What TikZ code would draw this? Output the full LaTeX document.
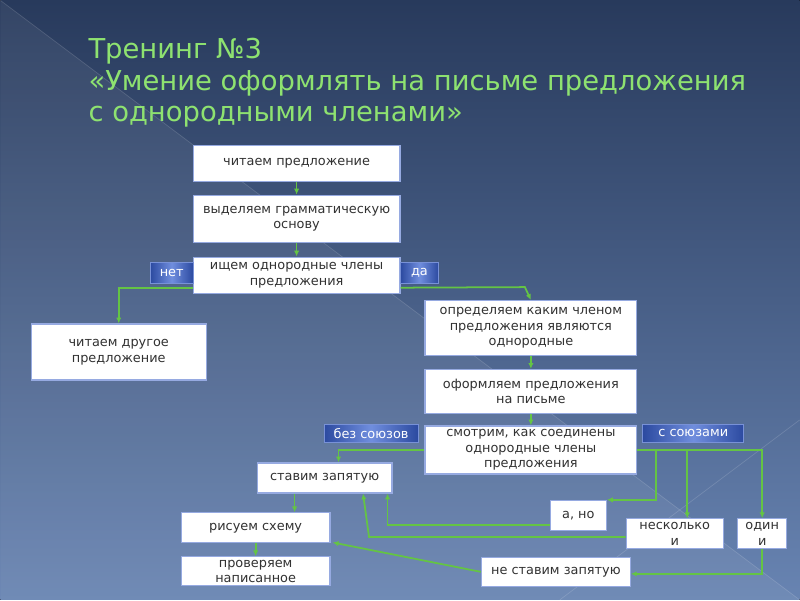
\documentclass[tikz,border=0pt]{standalone}
\usepackage{fontspec}
\setmainfont{DejaVu Sans}
\usetikzlibrary{arrows.meta, calc}
\definecolor{bgtop}{RGB}{40,58,92}
\definecolor{bgbot}{RGB}{104,132,178}
\definecolor{titlegreen}{RGB}{142,226,112}
\definecolor{flowgreen}{RGB}{100,196,68}
\definecolor{boxline}{RGB}{150,170,225}
\definecolor{boxtext}{RGB}{50,50,50}
\definecolor{tagdark}{RGB}{44,74,160}
\definecolor{taglight}{RGB}{112,142,222}
\definecolor{tagline}{RGB}{120,145,215}
\def\pxu{0.03cm}

\begin{document}
\begin{tikzpicture}[x=0.03cm, y=-0.03cm,
    box/.style={draw=boxline, line width=1pt, fill=white, text=boxtext, align=center,
        inner sep=1pt, font=\fontsize{11}{13.2}\selectfont},
    tag/.style={draw=tagline, line width=0.6pt, left color=tagdark, right color=tagdark,
        middle color=taglight, text=white, inner sep=1pt, font=\fontsize{11}{13}\selectfont},
    flow/.style={flowgreen, line width=1.5pt, -{Latex[length=5pt, width=4.5pt]}},
    heading/.style={anchor=base west, inner sep=0pt, text=titlegreen, font=\fontsize{23.4}{28}\selectfont}]
    % Background
    \fill[top color=bgtop, bottom color=bgbot] (0,0) rectangle (800,600);
    \fill[white, opacity=0.06] (0,0) -- (800,600) -- (0,600) -- cycle;
    \draw[white, opacity=0.14, line width=0.6pt] (0,0) -- (800,600);
    \draw[white, opacity=0.14, line width=0.6pt] (560,600) -- (800,420);
    \useasboundingbox (0,0) rectangle (800,600);

    % Title
    \node[heading] (title1) at (88,58) {Тренинг №3};
    \node[heading] (title2) at (88,90) {«Умение оформлять на письме предложения};
    \node[heading] (title3) at (88,121) {с однородными членами»};

    % Main column
    \node[box, minimum width=207*\pxu, minimum height=36*\pxu] (read) at (296.5,163) {читаем предложение};
    \node[box, minimum width=207*\pxu, minimum height=47*\pxu] (basis) at (296.5,218.5) {выделяем грамматическую\\основу};
    \node[box, minimum width=207*\pxu, minimum height=36*\pxu] (search) at (296.5,275) {ищем однородные члены\\предложения};
    \node[tag, minimum width=43*\pxu, minimum height=21*\pxu] (no) at (171.5,272.5) {нет};
    \node[tag, minimum width=38*\pxu, minimum height=21*\pxu] (yes) at (419.5,272.5) {да};
    \node[box, minimum width=175*\pxu, minimum height=56*\pxu] (other) at (118.5,352) {читаем другое\\предложение};

    % Right column
    \node[box, minimum width=212*\pxu, minimum height=55*\pxu] (define) at (531,328) {определяем каким членом\\предложения являются\\однородные};
    \node[box, minimum width=212*\pxu, minimum height=44*\pxu] (write) at (531,391.5) {оформляем предложения\\на письме};
    \node[box, minimum width=212*\pxu, minimum height=48*\pxu] (look) at (531,450) {смотрим, как соединены\\однородные члены\\предложения};
    \node[tag, minimum width=94*\pxu, minimum height=18*\pxu] (without) at (371,433.5) {без союзов};
    \node[tag, minimum width=101*\pxu, minimum height=18*\pxu] (with) at (693.5,433.5) {с союзами};

    % Lower part
    \node[box, minimum width=135*\pxu, minimum height=30*\pxu] (comma) at (324.5,478) {ставим запятую};
    \node[box, minimum width=149*\pxu, minimum height=30*\pxu] (scheme) at (255.5,528) {рисуем схему};
    \node[box, minimum width=149*\pxu, minimum height=29*\pxu] (check) at (255.5,571.5) {проверяем\\написанное};
    \node[box, minimum width=56*\pxu, minimum height=30*\pxu] (ano) at (578.5,515.5) {а, но};
    \node[box, minimum width=97*\pxu, minimum height=30*\pxu] (several) at (675,534) {несколько\\и};
    \node[box, minimum width=49*\pxu, minimum height=30*\pxu] (one) at (762.5,534) {один\\и};
    \node[box, minimum width=149*\pxu, minimum height=29*\pxu] (nocomma) at (556,572) {не ставим запятую};

    % Connectors
    \draw[flow] (read) -- (basis);
    \draw[flow] (basis) -- (search);
    \draw[flow] ($(search.south west)+(0,-6)$) -| (other.north);
    \draw[flow] ($(search.south east)+(0,-6)$) -- (525,287) -- (define.north);
    \draw[flow] (define) -- (write);
    \draw[flow] (write) -- (look);
    \draw[flow] (look.west) -| (338.5,0 |- comma.north);
    \draw[flow] (look.east) -| (one.north);
    \draw[flow] (656.5,0 |- look.east) |- (ano.north east);
    \draw[flow] (687.5,0 |- look.east) -- (687.5,0 |- several.north);
    \draw[flow] (294.5,0 |- comma.south) -- (294.5,0 |- scheme.north);
    \draw[flow] (scheme) -- (check);
    \draw[flow] ($(ano.west)+(0,9.5)$) -| (387.5,0 |- comma.south);
    \draw[flow] ($(several.west)+(0,3)$) -- (369,537) -- (363,0 |- comma.south);
    \draw[flow] (nocomma.west) -- ($(scheme.south east)+(2,-1)$);
    \draw[flow] (one.south) |- ($(nocomma.east)+(0,2)$);
\end{tikzpicture}
\end{document}
